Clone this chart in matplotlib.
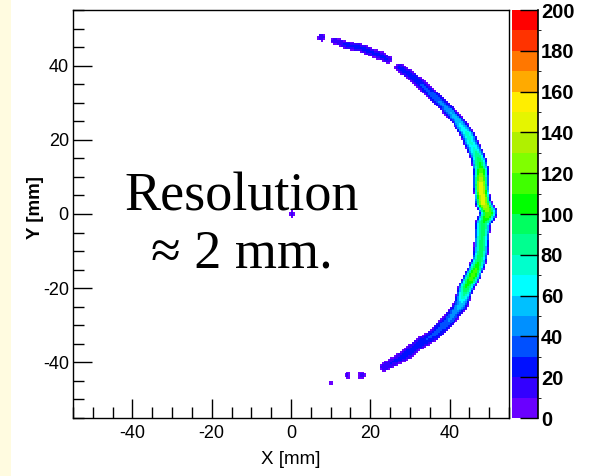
import numpy as np
import matplotlib
matplotlib.use("Agg")
import matplotlib.pyplot as plt
from matplotlib.colors import ListedColormap, BoundaryNorm
from matplotlib.patches import Rectangle
from matplotlib.ticker import MultipleLocator

plt.rcParams["axes.unicode_minus"] = False

# Ridge of the reconstructed ring: (x, y) in mm, peak counts, visible half-width in mm
arc_segment = [0, 0, 0, 0, 0, 0,
               1, 1, 1, 1, 1, 1, 1, 1, 1, 1, 1, 1, 1, 1, 1, 1, 1, 1, 1, 1, 1, 1, 1, 1, 1]
arc_x = [10.9, 13.9, 17.7, 20.7, 22.7, 24.5,
         27.3, 30.3, 33.6, 37.9, 42.2, 44.7, 46.0, 47.2, 48.0, 48.0, 48.5, 49.9,
         48.5, 48.2, 48.0, 47.5, 46.0, 44.2, 42.9, 39.6, 36.1, 32.1, 29.0, 27.0, 23.5]
arc_y = [46.7, 45.6, 44.8, 43.5, 42.7, 41.6,
         39.5, 37.3, 34.1, 29.9, 25.1, 21.3, 18.1, 15.5, 12.0, 7.5, 3.2, 0.3,
         -2.7, -6.7, -9.9, -12.8, -16.5, -20.0, -24.5, -28.8, -32.5, -35.2, -37.9, -39.2, -41.3]
arc_peak = [18, 22, 24, 22, 24, 20,
            22, 26, 32, 42, 58, 75, 70, 90, 115, 150, 150, 120,
            100, 95, 95, 100, 120, 100, 55, 40, 32, 28, 25, 22, 18]
arc_width = [1.0, 1.2, 1.1, 1.2, 1.3, 1.1,
             1.2, 1.3, 1.4, 1.5, 1.6, 1.8, 1.9, 1.9, 2.0, 2.0, 2.0, 2.2,
             2.0, 1.9, 1.9, 1.9, 2.0, 2.0, 1.9, 1.8, 1.7, 1.6, 1.5, 1.4, 1.2]

# Isolated hot spots: (x, y) in mm, peak counts, radius in mm
spot_x = [7.6, 17.9, 14.4, 10.1, 0.3]
spot_y = [47.7, -43.5, -43.5, -45.6, 0.0]
spot_peak = [20, 15, 12, 8, 15]
spot_r = [1.0, 1.1, 0.9, 0.7, 0.8]

levels = list(range(0, 210, 10))
palette = ["#6a00ff", "#3300ff", "#0010ff", "#0050ff", "#0090ff", "#00c0ff",
           "#00ffff", "#00ffcc", "#00ff90", "#00ff60", "#00ff00", "#40ff00",
           "#80ff00", "#b0f000", "#e5f500", "#ffee00", "#ffaa00", "#ff7700",
           "#ff3300", "#ff0000"]
cbar_ticks = list(range(0, 220, 20))
axis_ticks = [-40, -20, 0, 20, 40]

# 0.5 mm binning over the detector face
edges = np.arange(-55.0, 55.0001, 0.5)
centers = 0.5 * (edges[:-1] + edges[1:])
GX, GY = np.meshgrid(centers, centers)
counts = np.zeros_like(GX)

ax_ = np.array(arc_x); ay_ = np.array(arc_y)
ap_ = np.array(arc_peak, float); aw_ = np.array(arc_width)
seg = np.array(arc_segment)
for i in range(len(ax_) - 1):
    if seg[i] != seg[i + 1]:
        continue
    x0, y0, x1, y1 = ax_[i], ay_[i], ax_[i + 1], ay_[i + 1]
    dx, dy = x1 - x0, y1 - y0
    t = ((GX - x0) * dx + (GY - y0) * dy) / (dx * dx + dy * dy)
    t = np.clip(t, 0, 1)
    d = np.hypot(GX - (x0 + t * dx), GY - (y0 + t * dy))
    pk = ap_[i] + t * (ap_[i + 1] - ap_[i])
    w = aw_[i] + t * (aw_[i + 1] - aw_[i])
    v = pk * np.clip(1 - (d / w) ** 2, 0, None)
    counts = np.maximum(counts, v)

for sx, sy, sp, sr in zip(spot_x, spot_y, spot_peak, spot_r):
    d = np.hypot(GX - sx, GY - sy)
    counts = np.maximum(counts, sp * np.clip(1 - (d / sr) ** 2, 0, None))

counts = np.ma.masked_less(counts, 1.0)

cmap = ListedColormap(palette)
norm = BoundaryNorm(levels, cmap.N)

fig = plt.figure(figsize=(5.9, 4.76), dpi=100)
fig.patches.append(Rectangle((0, 0), 11 / 590, 1, transform=fig.transFigure,
                             facecolor="#fffbe0", edgecolor="none", zorder=-5))

ax = fig.add_axes([73 / 590, 58 / 476, 436 / 590, 408 / 476])
cax = fig.add_axes([511.5 / 590, 58 / 476, 26.5 / 590, 408 / 476])

mesh = ax.pcolormesh(edges, edges, counts, cmap=cmap, norm=norm)
ax.set_xlim(-55, 55)
ax.set_ylim(-55, 55)

lab_font = "Liberation Sans"
ax.set_xticks(axis_ticks)
ax.set_yticks(axis_ticks)
ax.xaxis.set_minor_locator(MultipleLocator(5))
ax.yaxis.set_minor_locator(MultipleLocator(5))
ax.tick_params(which="major", direction="in", length=14, width=1, labelsize=13,
               top=False, right=False)
ax.tick_params(which="minor", direction="in", length=8, width=1, top=False, right=False)
ax.tick_params(axis="x", pad=5)
ax.tick_params(axis="y", pad=3)
for lab in ax.get_xticklabels() + ax.get_yticklabels():
    lab.set_fontfamily(lab_font)
for sp in ax.spines.values():
    sp.set_linewidth(1.0)

ax.set_xlabel("X [mm]", fontsize=13.5, family=lab_font)
ax.xaxis.set_label_coords(0.5, -0.082)
ax.xaxis.label.set_va("top")
ax.set_ylabel("Y [mm]", fontsize=13.5, family=lab_font, fontweight="bold")
ax.yaxis.set_label_coords(-0.085, 0.517)
ax.yaxis.label.set_va("center")

ax.text(-12.5, 1.0, "Resolution", fontsize=39, family="Liberation Serif",
        ha="center", va="baseline", color="black", zorder=5)
ax.text(-12.3, -14.5, "\u2248 2 mm.", fontsize=39, family="Liberation Serif",
        ha="center", va="baseline", color="black", zorder=5)

cb = fig.colorbar(mesh, cax=cax, ticks=cbar_ticks)
cb.outline.set_visible(False)
cax.tick_params(direction="in", length=13, width=1, labelsize=14.5, pad=2,
                right=True, left=False)
for lab in cax.get_yticklabels():
    lab.set_fontfamily(lab_font)
    lab.set_fontweight("bold")
cax.plot([1, 1], [0, 1], transform=cax.transAxes, color="black", lw=1.2, clip_on=False)

fig.savefig("out.png", dpi=100)
